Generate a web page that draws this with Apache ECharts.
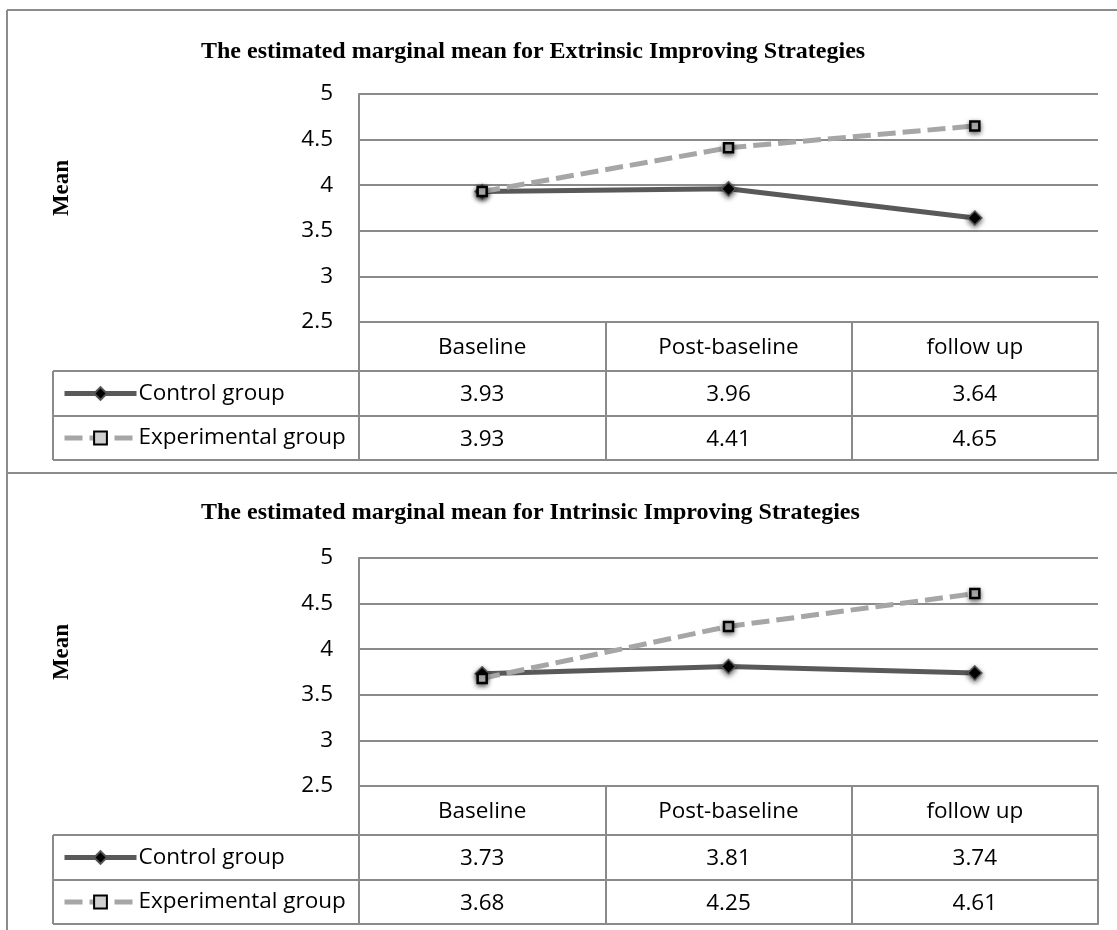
<!DOCTYPE html>
<html>
<head>
<meta charset="utf-8">
<script src="https://cdn.jsdelivr.net/npm/echarts@6/dist/echarts.min.js"></script>
<style>
  html, body { margin: 0; padding: 0; background: #fff; }
  #chart { width: 1117px; height: 930px; }
</style>
</head>
<body>
<div id="chart"></div>
<script>
// ---- data ----
const categories = ['Baseline', 'Post-baseline', 'follow up'];
const groupNames = ['Control group', 'Experimental group'];
const panelTitles = [
  'The estimated marginal mean for Extrinsic Improving Strategies',
  'The estimated marginal mean for Intrinsic Improving Strategies'
];
const extrinsicControl = [3.93, 3.96, 3.64];
const extrinsicExperimental = [3.93, 4.41, 4.65];
const intrinsicControl = [3.73, 3.81, 3.74];
const intrinsicExperimental = [3.68, 4.25, 4.61];
const yMin = 2.5, yMax = 5, yStep = 0.5;
const yAxisTitle = 'Mean';

// ---- layout ----
const PLOT_LEFT = 359, PLOT_RIGHT = 1098;
const PLOT_H = 228;
const PANEL_TOPS = [94, 558];
const TITLE_TOPS = [40, 501];
const ROW_OFFSETS = [49, 94, 138];   // table lines below the plot bottom
const LEGEND_LEFT = 53;
const GRID_COLOR = '#8a8a8a';
const FRAME_COLOR = '#8c8c8c';
const SANS = '"Open Sans", "Noto Sans", sans-serif';
const SERIF = '"Liberation Serif", "DejaVu Serif", serif';
const LABEL_SIZE = 22.5;

const panels = [
  { control: extrinsicControl, experimental: extrinsicExperimental },
  { control: intrinsicControl, experimental: intrinsicExperimental }
];

const fmt = v => v.toFixed(2);

const grids = [], xAxes = [], yAxes = [], series = [], legends = [], titles = [], graphics = [];

panels.forEach((p, i) => {
  const top = PANEL_TOPS[i];
  const bottom = top + PLOT_H;
  grids.push({ left: PLOT_LEFT, top: top, width: PLOT_RIGHT - PLOT_LEFT, height: PLOT_H });

  // header row: category names, with the table's column borders as ticks
  xAxes.push({
    type: 'category', gridIndex: i, data: categories, boundaryGap: true,
    axisLine: { show: true, lineStyle: { color: GRID_COLOR, width: 2 } },
    axisTick: { show: true, interval: 0, length: ROW_OFFSETS[2], lineStyle: { color: GRID_COLOR, width: 2 } },
    axisLabel: { interval: 0, margin: 26, verticalAlign: 'middle', color: '#000', fontFamily: SANS, fontSize: LABEL_SIZE }
  });
  // value rows of the data table
  [p.control, p.experimental].forEach((vals, r) => {
    xAxes.push({
      type: 'category', gridIndex: i, data: vals.map(fmt), boundaryGap: true,
      position: 'bottom', offset: ROW_OFFSETS[r],
      axisLine: { show: true, lineStyle: { color: GRID_COLOR, width: 2 } },
      axisTick: { show: false },
      axisLabel: { interval: 0, margin: 24, verticalAlign: 'middle', color: '#000', fontFamily: SANS, fontSize: LABEL_SIZE }
    });
  });
  // closing line of the table
  xAxes.push({
    type: 'category', gridIndex: i, data: categories, boundaryGap: true,
    position: 'bottom', offset: ROW_OFFSETS[2],
    axisLine: { show: true, lineStyle: { color: GRID_COLOR, width: 2 } },
    axisTick: { show: false }, axisLabel: { show: false }
  });
  const xBase = xAxes.length - 4;

  yAxes.push({
    type: 'value', gridIndex: i, min: yMin, max: yMax, interval: yStep,
    axisLine: { show: true, lineStyle: { color: GRID_COLOR, width: 2 } },
    axisTick: { show: false },
    splitLine: { show: true, lineStyle: { color: GRID_COLOR, width: 2 } },
    axisLabel: { margin: 26, color: '#000', fontFamily: SANS, fontSize: LABEL_SIZE,
      formatter: v => String(+v.toFixed(1)) }
  });

  series.push({
    name: groupNames[0], type: 'line', xAxisIndex: xBase, yAxisIndex: i,
    data: p.control, symbol: 'diamond', symbolSize: 14,
    lineStyle: { color: '#595959', width: 5 },
    itemStyle: { color: '#000', borderColor: '#555', borderWidth: 1.5,
      shadowColor: 'rgba(0,0,0,0.55)', shadowBlur: 5, shadowOffsetY: 2 },
    emphasis: { disabled: true }, z: 2
  });
  series.push({
    name: groupNames[1], type: 'line', xAxisIndex: xBase, yAxisIndex: i,
    data: p.experimental, symbol: 'rect', symbolSize: 9,
    lineStyle: { color: '#a6a6a6', width: 5, type: [18, 7] },
    itemStyle: { color: '#cfcfcf', borderColor: '#000', borderWidth: 2.5,
      shadowColor: 'rgba(0,0,0,0.55)', shadowBlur: 5, shadowOffsetY: 2 },
    emphasis: { disabled: true }, z: 3
  });

  // legend keys sit in the first column of the table rows
  const rowCenters = [bottom + (ROW_OFFSETS[0] + ROW_OFFSETS[1]) / 2, bottom + (ROW_OFFSETS[1] + ROW_OFFSETS[2]) / 2];
  groupNames.forEach((g, r) => {
    legends.push({
      data: [g], left: LEGEND_LEFT + 9, top: rowCenters[r] - 13, padding: 0,
      itemWidth: 72, itemHeight: 16, itemGap: 0, selectedMode: false,
      lineStyle: { width: 5 },
      textStyle: { color: '#000', fontFamily: SANS, fontSize: LABEL_SIZE, lineHeight: 26, padding: [0, 0, 0, -3] }
    });
  });

  titles.push({
    text: panelTitles[i], left: 201, top: TITLE_TOPS[i], padding: 0,
    textStyle: { fontFamily: SERIF, fontWeight: 'bold', fontSize: 24, color: '#000' }
  });

  graphics.push({
    type: 'text', x: 62, y: top + 94, rotation: Math.PI / 2,
    style: { text: yAxisTitle, fontFamily: SERIF, fontWeight: 'bold', fontSize: 23, fill: '#000',
      textAlign: 'center', textVerticalAlign: 'middle' }
  });

  // border of the legend column of the table
  const lineStyle = { stroke: GRID_COLOR, lineWidth: 2 };
  ROW_OFFSETS.forEach(o => {
    graphics.push({ type: 'line', shape: { x1: LEGEND_LEFT, y1: bottom + o, x2: PLOT_LEFT, y2: bottom + o }, style: lineStyle });
  });
  graphics.push({ type: 'line', shape: { x1: LEGEND_LEFT, y1: bottom + ROW_OFFSETS[0], x2: LEGEND_LEFT, y2: bottom + ROW_OFFSETS[2] }, style: lineStyle });
});

// outer chart frames
const frame = { stroke: FRAME_COLOR, lineWidth: 2 };
graphics.push({ type: 'line', shape: { x1: 7, y1: 10, x2: 1117, y2: 10 }, style: frame });
graphics.push({ type: 'line', shape: { x1: 7, y1: 10, x2: 7, y2: 930 }, style: frame });
graphics.push({ type: 'line', shape: { x1: 7, y1: 473, x2: 1117, y2: 473 }, style: frame });

const chart = echarts.init(document.getElementById('chart'), null, { renderer: 'canvas' });
chart.setOption({
  animation: false,
  backgroundColor: '#fff',
  title: titles,
  grid: grids,
  xAxis: xAxes,
  yAxis: yAxes,
  legend: legends,
  series: series,
  graphic: graphics
});
</script>
</body>
</html>
